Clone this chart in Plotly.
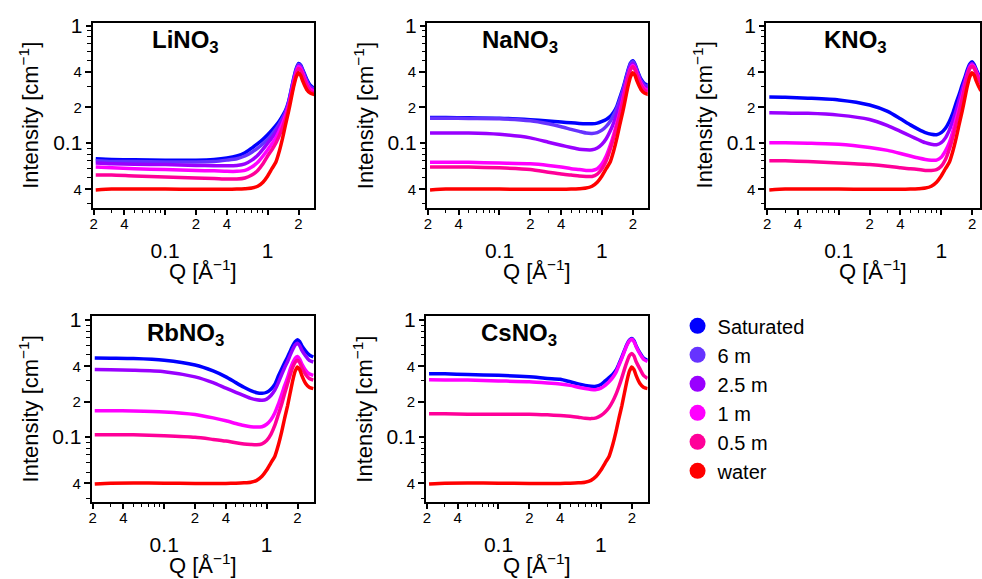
import plotly.graph_objects as go

# ---------------- data ----------------
Q = [0.021, 0.03, 0.05, 0.1, 0.2, 0.3, 0.4, 0.5, 0.6, 0.7, 0.8, 0.9, 1.0, 1.1,
     1.2, 1.3, 1.4, 1.5, 1.6, 1.7, 1.8, 1.9, 2.0, 2.1, 2.2, 2.4, 2.6, 2.85]

water = [0.0395, 0.0402, 0.0403, 0.0402, 0.040, 0.040, 0.040, 0.0402, 0.0405, 0.041, 0.0425, 0.046, 0.052, 0.060,
         0.068, 0.085, 0.11, 0.145, 0.185, 0.24, 0.305, 0.365, 0.395, 0.375, 0.335, 0.285, 0.265, 0.258]

li_sat = [0.073, 0.072, 0.0715, 0.071, 0.071, 0.072, 0.074, 0.077, 0.082, 0.09, 0.098, 0.107, 0.117, 0.128,
          0.14, 0.153, 0.17, 0.19, 0.225, 0.285, 0.36, 0.43, 0.475, 0.46, 0.42, 0.35, 0.31, 0.29]
li_6m = [0.070, 0.069, 0.069, 0.0685, 0.0685, 0.069, 0.071, 0.073, 0.077, 0.083, 0.09, 0.098, 0.107, 0.118,
         0.13, 0.145, 0.162, 0.185, 0.22, 0.28, 0.35, 0.42, 0.465, 0.45, 0.41, 0.34, 0.30, 0.285]
li_25m = [0.067, 0.066, 0.0655, 0.065, 0.064, 0.0635, 0.0635, 0.064, 0.066, 0.071, 0.078, 0.088, 0.099, 0.11,
          0.123, 0.138, 0.156, 0.18, 0.215, 0.27, 0.34, 0.41, 0.455, 0.44, 0.40, 0.33, 0.295, 0.28]
li_1m = [0.062, 0.061, 0.060, 0.059, 0.058, 0.0575, 0.057, 0.057, 0.058, 0.062, 0.068, 0.077, 0.087, 0.098,
         0.11, 0.127, 0.147, 0.172, 0.207, 0.26, 0.33, 0.40, 0.445, 0.43, 0.39, 0.32, 0.285, 0.275]
li_05m = [0.053, 0.053, 0.052, 0.051, 0.050, 0.0495, 0.049, 0.049, 0.050, 0.053, 0.058, 0.066, 0.077, 0.087,
          0.099, 0.115, 0.136, 0.162, 0.20, 0.255, 0.32, 0.39, 0.43, 0.415, 0.375, 0.31, 0.275, 0.265]

na_sat = [0.164, 0.164, 0.163, 0.162, 0.157, 0.153, 0.150, 0.148, 0.146, 0.145, 0.145, 0.147, 0.152, 0.158,
          0.167, 0.182, 0.205, 0.245, 0.29, 0.35, 0.42, 0.48, 0.50, 0.47, 0.42, 0.35, 0.32, 0.31]
na_6m = [0.162, 0.162, 0.161, 0.160, 0.154, 0.145, 0.137, 0.130, 0.125, 0.121, 0.120, 0.122, 0.128, 0.138,
         0.152, 0.172, 0.198, 0.235, 0.28, 0.34, 0.41, 0.47, 0.49, 0.46, 0.41, 0.34, 0.31, 0.30]
na_25m = [0.121, 0.121, 0.121, 0.118, 0.110, 0.101, 0.095, 0.091, 0.088, 0.087, 0.087, 0.090, 0.097, 0.108,
          0.125, 0.148, 0.178, 0.215, 0.265, 0.325, 0.39, 0.45, 0.475, 0.45, 0.40, 0.33, 0.30, 0.29]
na_1m = [0.068, 0.068, 0.068, 0.067, 0.066, 0.064, 0.062, 0.060, 0.059, 0.058, 0.058, 0.060, 0.066, 0.077,
         0.094, 0.117, 0.148, 0.185, 0.235, 0.30, 0.37, 0.43, 0.455, 0.43, 0.385, 0.32, 0.29, 0.28]
na_05m = [0.062, 0.062, 0.062, 0.061, 0.059, 0.056, 0.054, 0.053, 0.052, 0.0515, 0.0515, 0.054, 0.060, 0.070,
          0.087, 0.11, 0.14, 0.178, 0.225, 0.29, 0.36, 0.42, 0.445, 0.42, 0.375, 0.31, 0.28, 0.27]

k_sat = [0.245, 0.244, 0.24, 0.232, 0.21, 0.185, 0.16, 0.142, 0.13, 0.122, 0.118, 0.117, 0.122, 0.133,
         0.152, 0.18, 0.22, 0.26, 0.31, 0.36, 0.42, 0.47, 0.49, 0.465, 0.42, 0.36, 0.32, 0.30]
k_25m = [0.180, 0.179, 0.178, 0.172, 0.158, 0.14, 0.125, 0.114, 0.106, 0.10, 0.097, 0.096, 0.10, 0.11,
         0.128, 0.155, 0.19, 0.235, 0.285, 0.34, 0.40, 0.455, 0.475, 0.45, 0.41, 0.35, 0.31, 0.29]
k_1m = [0.100, 0.100, 0.099, 0.097, 0.091, 0.086, 0.081, 0.077, 0.074, 0.072, 0.071, 0.071, 0.075, 0.085,
        0.10, 0.125, 0.16, 0.20, 0.25, 0.31, 0.38, 0.44, 0.46, 0.44, 0.40, 0.34, 0.30, 0.28]
k_05m = [0.070, 0.070, 0.069, 0.067, 0.065, 0.063, 0.061, 0.060, 0.059, 0.058, 0.058, 0.059, 0.063, 0.072,
         0.088, 0.112, 0.145, 0.185, 0.235, 0.30, 0.37, 0.43, 0.45, 0.43, 0.39, 0.33, 0.29, 0.275]

rb_sat = [0.47, 0.468, 0.465, 0.45, 0.41, 0.365, 0.325, 0.29, 0.265, 0.248, 0.238, 0.235, 0.24, 0.255,
          0.28, 0.33, 0.38, 0.43, 0.48, 0.54, 0.60, 0.65, 0.675, 0.65, 0.60, 0.54, 0.50, 0.48]
rb_25m = [0.375, 0.373, 0.37, 0.36, 0.325, 0.29, 0.26, 0.24, 0.225, 0.213, 0.207, 0.205, 0.21, 0.225,
          0.25, 0.29, 0.34, 0.39, 0.44, 0.50, 0.56, 0.61, 0.63, 0.60, 0.55, 0.49, 0.45, 0.435]
rb_1m = [0.167, 0.167, 0.166, 0.163, 0.155, 0.145, 0.137, 0.13, 0.125, 0.122, 0.121, 0.122, 0.128, 0.14,
         0.16, 0.19, 0.23, 0.275, 0.32, 0.38, 0.43, 0.47, 0.485, 0.46, 0.42, 0.37, 0.345, 0.335]
rb_05m = [0.104, 0.104, 0.104, 0.102, 0.099, 0.095, 0.092, 0.089, 0.087, 0.086, 0.0855, 0.087, 0.093, 0.105,
          0.125, 0.155, 0.19, 0.235, 0.285, 0.34, 0.395, 0.435, 0.45, 0.43, 0.39, 0.34, 0.315, 0.305]

cs_sat = [0.345, 0.345, 0.34, 0.335, 0.325, 0.315, 0.31, 0.295, 0.283, 0.275, 0.27, 0.27, 0.28, 0.30,
          0.32, 0.34, 0.37, 0.42, 0.48, 0.55, 0.62, 0.67, 0.69, 0.66, 0.60, 0.52, 0.47, 0.45]
cs_1m = [0.307, 0.306, 0.305, 0.30, 0.295, 0.288, 0.282, 0.275, 0.265, 0.258, 0.254, 0.253, 0.26, 0.275,
         0.295, 0.32, 0.355, 0.41, 0.47, 0.54, 0.61, 0.66, 0.68, 0.65, 0.59, 0.51, 0.46, 0.44]
cs_05m = [0.157, 0.157, 0.156, 0.156, 0.156, 0.154, 0.152, 0.150, 0.147, 0.144, 0.143, 0.145, 0.152, 0.163,
          0.178, 0.20, 0.23, 0.27, 0.32, 0.38, 0.44, 0.495, 0.515, 0.49, 0.44, 0.38, 0.335, 0.315]

series_names = ["Saturated", "6 m", "2.5 m", "1 m", "0.5 m", "water"]
series_colors = ["#0000ff", "#6633ff", "#9900ff", "#ff00ff", "#ff0099", "#ff0000"]

panel_titles = ["LiNO<sub>3</sub>", "NaNO<sub>3</sub>", "KNO<sub>3</sub>", "RbNO<sub>3</sub>", "CsNO<sub>3</sub>"]
panel_data = [
    {"Saturated": li_sat, "6 m": li_6m, "2.5 m": li_25m, "1 m": li_1m, "0.5 m": li_05m, "water": water},
    {"Saturated": na_sat, "6 m": na_6m, "2.5 m": na_25m, "1 m": na_1m, "0.5 m": na_05m, "water": water},
    {"Saturated": k_sat, "2.5 m": k_25m, "1 m": k_1m, "0.5 m": k_05m, "water": water},
    {"Saturated": rb_sat, "2.5 m": rb_25m, "1 m": rb_1m, "0.5 m": rb_05m, "water": water},
    {"Saturated": cs_sat, "1 m": cs_1m, "0.5 m": cs_05m, "water": water},
]

# small (mantissa) tick labels and large (decade) tick labels
x_small = [0.02, 0.04, 0.2, 0.4, 2]
x_small_text = ["2", "4", "2", "4", "2"]
x_decade = [0.1, 1]
x_decade_text = ["0.1", "1"]
x_minor = [0.03, 0.05, 0.06, 0.07, 0.08, 0.09, 0.3, 0.5, 0.6, 0.7, 0.8, 0.9]
y_small = [0.04, 0.2, 0.4]
y_small_text = ["4", "2", "4"]
y_decade = [0.1, 1]
y_decade_text = ["0.1", "1"]
y_minor = [0.03, 0.05, 0.06, 0.07, 0.08, 0.09, 0.3, 0.5, 0.6, 0.7, 0.8, 0.9]

# ---------------- geometry ----------------
W, H = 982, 579
FONT = "Liberation Sans, Arial, sans-serif"
x_px = [(90, 313), (426, 648), (767, 982), (89, 313), (425, 648)]
y_px = [(14.2, 201.8), (14.2, 201.8), (14.2, 201.8), (312, 500.3), (312, 500.3)]
PX_PER_DEC_X = 103.0
PX_PER_DEC_Y = 119.0
X_LEFT = -1.709

fig = go.Figure()


def ax(kind, n):
    return kind if n == 1 else f"{kind}{n}"


for i, (title, data) in enumerate(zip(panel_titles, panel_data)):
    n = i + 1
    m = n + 5  # overlay axes carrying the large decade labels
    xref, yref = ax("x", n), ax("y", n)
    for name, color in zip(series_names, series_colors):
        if name not in data:
            continue
        fig.add_trace(go.Scatter(
            x=Q, y=data[name], xaxis=xref, yaxis=yref, mode="lines",
            line=dict(color=color, width=3.5, shape="spline", smoothing=0.6),
            name=name, showlegend=False, hoverinfo="skip"))
    # empty trace so that the overlay subplot exists
    fig.add_trace(go.Scatter(x=[None], y=[None], xaxis=f"x{m}", yaxis=f"y{m}",
                             mode="lines", showlegend=False, hoverinfo="skip"))

    x0, x1 = x_px[i]
    yt, yb = y_px[i]
    xr = [X_LEFT, X_LEFT + (x1 - x0) / PX_PER_DEC_X]
    ytop = 0.022 if n <= 3 else 0.03
    yr = [ytop - (yb - yt) / PX_PER_DEC_Y, ytop]

    tick_style = dict(ticks="outside", ticklen=6, tickwidth=1.5, tickcolor="black",
                      showgrid=False, zeroline=False, tickmode="array", type="log")
    minor_style = dict(tickmode="array", ticks="outside", ticklen=3.5, tickwidth=1.2,
                       tickcolor="black")
    fig.update_layout({
        ax("xaxis", n): dict(
            domain=[x0 / W, x1 / W], range=xr, anchor=yref,
            showline=True, mirror=True, linecolor="black", linewidth=1.5,
            tickvals=x_small, ticktext=x_small_text, ticklabelstandoff=-4,
            tickfont=dict(family=FONT, size=15, color="black"),
            minor=dict(tickvals=x_minor, **minor_style), **tick_style),
        ax("yaxis", n): dict(
            domain=[1 - yb / H, 1 - yt / H], range=yr, anchor=xref,
            showline=True, mirror=True, linecolor="black", linewidth=1.5,
            tickvals=y_small, ticktext=y_small_text,
            tickfont=dict(family=FONT, size=15, color="black"),
            minor=dict(tickvals=y_minor, **minor_style), **tick_style),
        f"xaxis{m}": dict(overlaying=xref, anchor=f"y{m}", side="bottom", range=xr,
                          showline=False, tickvals=x_decade, ticktext=x_decade_text,
                          ticklabelstandoff=18,
                          tickfont=dict(family=FONT, size=21, color="black"), **tick_style),
        f"yaxis{m}": dict(overlaying=yref, anchor=f"x{m}", side="left", range=yr,
                          showline=False, tickvals=y_decade, ticktext=y_decade_text,
                          ticklabelstandoff=-1,
                          tickfont=dict(family=FONT, size=21, color="black"), **tick_style),
    })

    fig.add_annotation(text=f"<b>{title}</b>", xref=f"{xref} domain", yref=f"{yref} domain",
                       x=0.42, y=0.9, xanchor="center", yanchor="middle", showarrow=False,
                       font=dict(family=FONT, size=24, color="black"))
    fig.add_annotation(text="Intensity [cm<sup>\u22121</sup>]", textangle=-90,
                       xref=f"{xref} domain", yref=f"{yref} domain",
                       x=0, y=0.5, xanchor="center", yanchor="middle", xshift=-63,
                       showarrow=False, font=dict(family=FONT, size=22, color="black"))
    fig.add_annotation(text="Q [\u00c5<sup>\u22121</sup>]",
                       xref=f"{xref} domain", yref=f"{yref} domain",
                       x=0.5, y=0, xanchor="center", yanchor="middle", yshift=-62,
                       showarrow=False, font=dict(family=FONT, size=22, color="black"))

# legend entries
for name, color in zip(series_names, series_colors):
    fig.add_trace(go.Scatter(x=[None], y=[None], xaxis="x5", yaxis="y5", mode="markers",
                             marker=dict(color=color, size=16, symbol="circle"),
                             name=name, showlegend=True))

fig.update_layout(
    width=W, height=H, margin=dict(l=0, r=0, t=0, b=0),
    paper_bgcolor="white", plot_bgcolor="white",
    font=dict(family=FONT, color="black"),
    legend=dict(x=678 / W, y=1 - 302 / H, xanchor="left", yanchor="top",
                font=dict(family=FONT, size=20, color="black"),
                bgcolor="rgba(0,0,0,0)", itemwidth=30, tracegroupgap=0),
)

fig.write_html("out.html")
